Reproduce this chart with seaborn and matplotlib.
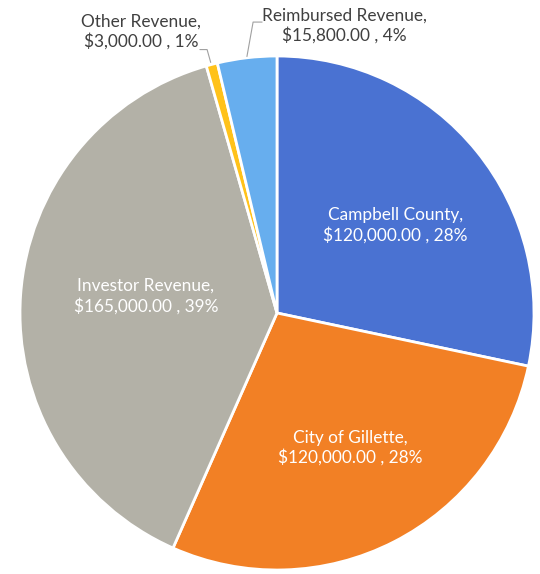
import matplotlib
matplotlib.use("Agg")
import matplotlib.pyplot as plt
import seaborn as sns

# ── datos ───────────────────────────────────────────────────────────────────
categories = ["Campbell County", "City of Gillette", "Investor Revenue",
              "Other Revenue", "Reimbursed Revenue"]
values = [120000.00, 120000.00, 165000.00, 3000.00, 15800.00]
pct_labels = ["28%", "28%", "39%", "1%", "4%"]
colors = ["#4A72D2", "#F28025", "#B3B1A7", "#FFC21A", "#67AEEE"]

sns.set_theme(style="white")
plt.rcParams["font.family"] = ["Lato", "DejaVu Sans"]

fig = plt.figure(figsize=(5.4, 5.74), dpi=100)
ax = fig.add_axes([20 / 540, 4 / 574, 514 / 540, 514 / 574])

wedges, _ = ax.pie(values, colors=colors, startangle=90, counterclock=False,
                   radius=1.0,
                   wedgeprops=dict(edgecolor="white", linewidth=2))
ax.set_xlim(-1, 1)
ax.set_ylim(-1, 1)
ax.set_aspect("equal")
ax.axis("off")

texts = [f"{c},\n${v:,.2f} , {p}" for c, v, p in zip(categories, values, pct_labels)]
FS = 12.4

# etiquetas dentro de los sectores grandes
inside_pos = [(0.46, 0.34), (0.285, -0.525), (-0.51, 0.066)]
for i, (x, y) in enumerate(inside_pos):
    ax.text(x, y, texts[i], ha="center", va="center", color="white",
            fontsize=FS, linespacing=1.25)

# etiquetas exteriores con líneas guía
ax.text(-0.53, 1.095, texts[3], ha="center", va="center", color="#404040",
        fontsize=FS, linespacing=1.25, clip_on=False)
ax.plot([-0.30, -0.272, -0.258], [1.025, 1.025, 0.975], color="#A0A0A0", lw=0.8,
        clip_on=False)

ax.text(0.262, 1.117, texts[4], ha="center", va="center", color="#404040",
        fontsize=FS, linespacing=1.25, clip_on=False)
ax.plot([-0.058, -0.093, -0.117], [1.132, 1.132, 0.998], color="#A0A0A0", lw=0.8,
        clip_on=False)

fig.savefig("out.png", dpi=100, facecolor="white")
